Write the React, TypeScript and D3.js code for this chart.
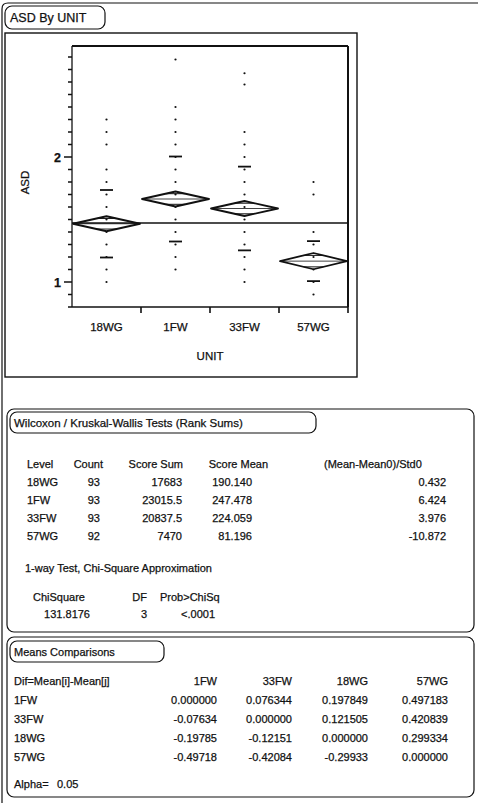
import React, { useEffect, useRef } from 'react';
import * as d3 from 'd3';

const units = ['18WG', '1FW', '33FW', '57WG'];
const asd18WG = [1.0, 1.1, 1.2, 1.3, 1.4, 1.5, 1.6, 1.7, 1.8, 1.9, 2.1, 2.2, 2.3];
const asd1FW = [1.1, 1.2, 1.3, 1.4, 1.5, 1.6, 1.7, 1.8, 1.9, 2.0, 2.1, 2.2, 2.3, 2.4, 2.78];
const asd33FW = [1.0, 1.1, 1.2, 1.3, 1.4, 1.5, 1.6, 1.7, 1.8, 1.9, 2.0, 2.1, 2.2, 2.58, 2.67];
const asd57WG = [0.9, 1.0, 1.1, 1.2, 1.3, 1.4, 1.7, 1.8];
const unitPoints = [asd18WG, asd1FW, asd33FW, asd57WG];

// group summaries
const unitMeans = [1.466, 1.664, 1.588, 1.167];
const unitStdDevs = [0.27, 0.34, 0.335, 0.16];
const ciHalfWidth = [0.06, 0.06, 0.06, 0.065];
const grandMean = 1.472;
const yTickLabels = [1, 2];

// Wilcoxon / Kruskal-Wallis table
const wilcoxHeaders = ['Level', 'Count', 'Score Sum', 'Score Mean', '(Mean-Mean0)/Std0'];
const wilcoxLevels = ['18WG', '1FW', '33FW', '57WG'];
const wilcoxCounts = ['93', '93', '93', '92'];
const scoreSums = ['17683', '23015.5', '20837.5', '7470'];
const scoreMeans = ['190.140', '247.478', '224.059', '81.196'];
const stdScores = ['0.432', '6.424', '3.976', '-10.872'];
const chiHeaders = ['ChiSquare', 'DF', 'Prob>ChiSq'];
const chiValues = ['131.8176', '3', '<.0001'];

// Means comparisons
const compareLevels = ['1FW', '33FW', '18WG', '57WG'];
const diff1FW = ['0.000000', '0.076344', '0.197849', '0.497183'];
const diff33FW = ['-0.07634', '0.000000', '0.121505', '0.420839'];
const diff18WG = ['-0.19785', '-0.12151', '0.000000', '0.299334'];
const diff57WG = ['-0.49718', '-0.42084', '-0.29933', '0.000000'];
const diffRows = [diff1FW, diff33FW, diff18WG, diff57WG];
const alphaValue = '0.05';

const W = 478;
const H = 803;
const FONT = '"Liberation Sans", Arial, sans-serif';
const INK = '#111';

const App: React.FC = () => {
  const svgRef = useRef<SVGSVGElement>(null);

  useEffect(() => {
    if (!svgRef.current) return;
    const svg = d3.select(svgRef.current);
    svg.selectAll('*').remove();

    // scanned print looks a bit heavy, so give text a hairline stroke
    const txt = (x: number, y: number, s: string, anchor = 'start', size = 11) =>
      svg.append('text')
        .attr('x', x).attr('y', y)
        .attr('text-anchor', anchor)
        .attr('font-family', FONT)
        .attr('font-size', size)
        .attr('fill', INK)
        .attr('stroke', INK)
        .attr('stroke-width', 0.25)
        .text(s);

    const box = (x: number, y: number, w: number, h: number, rx: number, sw = 1.2) =>
      svg.append('rect')
        .attr('x', x).attr('y', y).attr('width', w).attr('height', h)
        .attr('rx', rx).attr('fill', 'none').attr('stroke', INK).attr('stroke-width', sw);

    // outer report outline
    svg.append('path')
      .attr('d', `M2,${H} L2,9 Q2,3 8,3 L${W},3`)
      .attr('fill', 'none').attr('stroke', INK).attr('stroke-width', 1.2);
    box(5, 6, 100, 23, 7);
    txt(10, 22, 'ASD By UNIT', 'start', 12.5);

    // chart frame
    box(5, 33, 352, 344, 0, 1.4);

    // plot area
    const plot = { left: 72, right: 348, top: 46, bottom: 307 };
    const x = d3.scaleBand<string>().domain(units).range([plot.left, plot.right]);
    const y = d3.scaleLinear().domain([0.8, 2.888]).range([plot.bottom, plot.top]);

    const g = svg.append('g');
    g.append('line').attr('x1', plot.left).attr('x2', plot.right).attr('y1', plot.top).attr('y2', plot.top)
      .attr('stroke', INK).attr('stroke-width', 2);
    g.append('line').attr('x1', plot.right).attr('x2', plot.right).attr('y1', plot.top).attr('y2', plot.bottom)
      .attr('stroke', INK).attr('stroke-width', 2);
    g.append('line').attr('x1', plot.left).attr('x2', plot.left).attr('y1', plot.top).attr('y2', plot.bottom)
      .attr('stroke', INK).attr('stroke-width', 1.3);
    g.append('line').attr('x1', plot.left).attr('x2', plot.right).attr('y1', plot.bottom).attr('y2', plot.bottom)
      .attr('stroke', INK).attr('stroke-width', 1.3);

    // y ticks (minor every 0.1)
    const minor = d3.range(8, 29).map(v => v / 10);
    g.selectAll('.ytick').data(minor).enter().append('line')
      .attr('x1', d => (Math.abs(d - Math.round(d)) < 1e-6 ? plot.left - 8 : plot.left - 4))
      .attr('x2', plot.left)
      .attr('y1', d => y(d)).attr('y2', d => y(d))
      .attr('stroke', INK).attr('stroke-width', 1.5);
    yTickLabels.forEach(v => {
      txt(plot.left - 11, y(v) + 4.5, String(v), 'end', 12.5).attr('font-weight', 'bold');
    });
    svg.append('text')
      .attr('transform', `translate(29,${(plot.top + plot.bottom) / 2 + 6}) rotate(-90)`)
      .attr('text-anchor', 'middle').attr('font-family', FONT).attr('font-size', 11.5).attr('fill', INK)
      .attr('stroke', INK).attr('stroke-width', 0.25)
      .text('ASD');

    // x ticks at band edges
    units.forEach(u => {
      const xe = (x(u) as number) + x.bandwidth();
      g.append('line').attr('x1', xe).attr('x2', xe).attr('y1', plot.bottom).attr('y2', plot.bottom + 6)
        .attr('stroke', INK).attr('stroke-width', 1.6);
      txt((x(u) as number) + x.bandwidth() / 2, plot.bottom + 24, u, 'middle', 11.5);
    });
    txt((plot.left + plot.right) / 2, plot.bottom + 53, 'UNIT', 'middle', 11.5);

    // grand mean line
    g.append('line').attr('x1', plot.left).attr('x2', plot.right)
      .attr('y1', y(grandMean)).attr('y2', y(grandMean))
      .attr('stroke', INK).attr('stroke-width', 1.6);

    // points
    unitPoints.forEach((pts, i) => {
      const cx = (x(units[i]) as number) + x.bandwidth() / 2;
      g.selectAll(null).data(pts).enter().append('circle')
        .attr('cx', cx).attr('cy', d => y(d)).attr('r', 1.1).attr('fill', INK);
    });

    // means diamonds, overlap marks and std dev lines
    units.forEach((u, i) => {
      const x0 = (x(u) as number) + 1;
      const x1 = (x(u) as number) + x.bandwidth() - 1;
      const cx = (x0 + x1) / 2;
      const m = unitMeans[i];
      const hw = ciHalfWidth[i];
      const halfW = (x1 - x0) / 2;
      g.append('path')
        .attr('d', `M${x0},${y(m)} L${cx},${y(m + hw)} L${x1},${y(m)} L${cx},${y(m - hw)} Z`)
        .attr('fill', 'none').attr('stroke', INK).attr('stroke-width', 1.8).attr('stroke-linejoin', 'round');
      g.append('line').attr('x1', x0).attr('x2', x1).attr('y1', y(m)).attr('y2', y(m))
        .attr('stroke', INK).attr('stroke-width', 0.8);
      const ov = hw / Math.SQRT2;
      const frac = 1 - ov / hw;
      [m + ov, m - ov].forEach(v => {
        g.append('line')
          .attr('x1', cx - halfW * frac).attr('x2', cx + halfW * frac)
          .attr('y1', y(v)).attr('y2', y(v))
          .attr('stroke', INK).attr('stroke-width', 1);
      });
      [m + unitStdDevs[i], m - unitStdDevs[i]].forEach(v => {
        g.append('line').attr('x1', cx - 6.5).attr('x2', cx + 6.5)
          .attr('y1', y(v)).attr('y2', y(v))
          .attr('stroke', INK).attr('stroke-width', 1.8);
      });
    });

    // Wilcoxon / Kruskal-Wallis box
    box(7, 409, 467, 223, 7);
    box(10, 412, 306, 21, 7);
    txt(14, 427, 'Wilcoxon / Kruskal-Wallis Tests (Rank Sums)', 'start', 11.5);
    const hy = 468;
    txt(27, hy, wilcoxHeaders[0]);
    txt(103, hy, wilcoxHeaders[1], 'end');
    txt(183, hy, wilcoxHeaders[2], 'end');
    txt(268, hy, wilcoxHeaders[3], 'end');
    txt(324, hy, wilcoxHeaders[4]);
    wilcoxLevels.forEach((lv, i) => {
      const ry = hy + 18 * (i + 1);
      txt(27, ry, lv);
      txt(100, ry, wilcoxCounts[i], 'end');
      txt(182, ry, scoreSums[i], 'end');
      txt(252, ry, scoreMeans[i], 'end');
      txt(446, ry, stdScores[i], 'end');
    });
    txt(25, 572, '1-way Test, Chi-Square Approximation');
    txt(33, 601, chiHeaders[0]);
    txt(147, 601, chiHeaders[1], 'end');
    txt(160, 601, chiHeaders[2]);
    txt(90, 618, chiValues[0], 'end');
    txt(147, 618, chiValues[1], 'end');
    txt(215, 618, chiValues[2], 'end');

    // Means comparisons box
    box(7, 637, 467, 160, 7);
    box(10, 641, 154, 21, 7);
    txt(14, 656, 'Means Comparisons');
    const colRight = [217, 292, 368, 448];
    txt(14, 685, 'Dif=Mean[i]-Mean[j]');
    compareLevels.forEach((lv, j) => txt(colRight[j], 685, lv, 'end'));
    compareLevels.forEach((lv, i) => {
      const ry = 704 + 19 * i;
      txt(14, ry, lv);
      diffRows[i].forEach((v, j) => txt(colRight[j], ry, v, 'end'));
    });
    txt(14, 788, 'Alpha=');
    txt(57, 788, alphaValue);
  }, []);

  return (
    <svg
      ref={svgRef}
      width={W}
      height={H}
      style={{ position: 'absolute', left: 0, top: 0, background: '#fff' }}
    />
  );
};

export default App;
